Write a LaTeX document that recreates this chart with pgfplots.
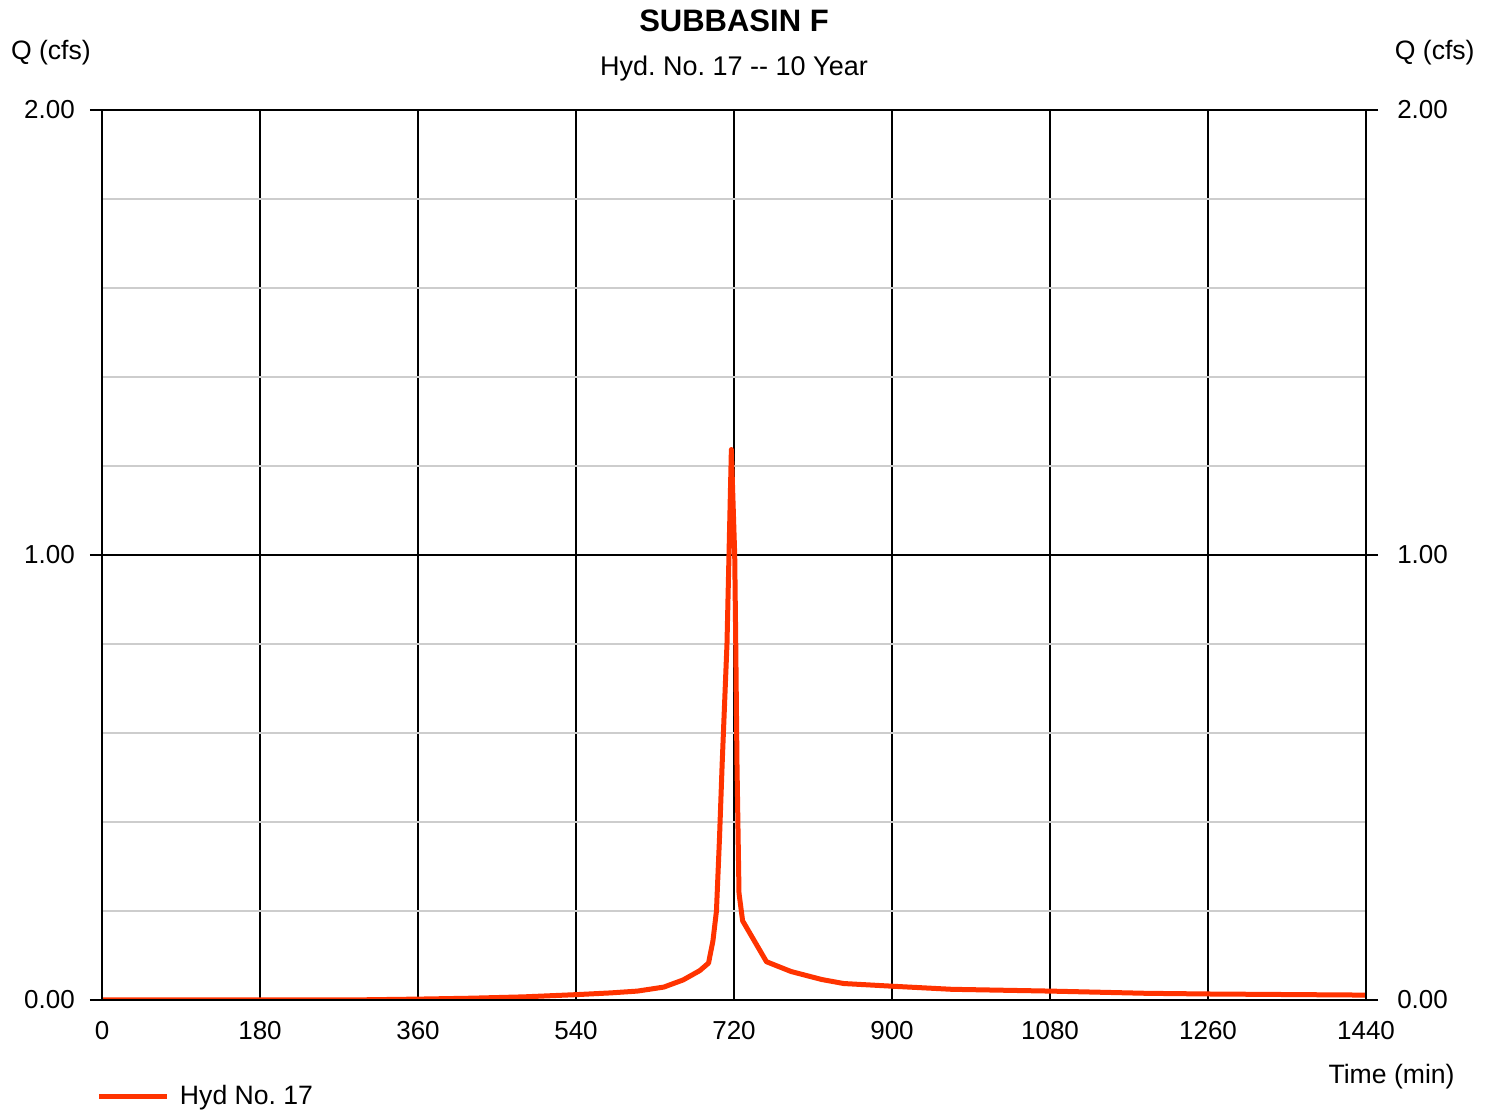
\documentclass[border=0pt]{standalone}
\usepackage{fontspec}
\setmainfont{Liberation Sans}
\usepackage{pgfplots}
\pgfplotsset{compat=1.18}
\definecolor{hyd}{RGB}{255,51,0}
\definecolor{mgrid}{RGB}{205,205,205}
\begin{document}
\frenchspacing
\fontsize{13.3pt}{16pt}\selectfont
\begin{tikzpicture}
\useasboundingbox (0,0) rectangle (747pt,556pt);
\begin{axis}[
  at={(51pt,56pt)}, anchor=south west,
  scale only axis, width=632pt, height=445pt,
  xmin=0, xmax=1440, ymin=0, ymax=2,
  xtick={0,180,360,540,720,900,1080,1260,1440},
  ytick={0,1,2},
  minor ytick={0.2,0.4,0.6,0.8,1.2,1.4,1.6,1.8},
  ytick pos=left,
  tick align=outside,
  major tick length=6pt, minor tick length=0pt,
  xtick style={draw=none},
  ytick style={black, line width=0.6pt},
  grid=both,
  major grid style={black, line width=0.6pt},
  minor grid style={mgrid, line width=1pt},
  axis line style={black, line width=0.7pt},
  /pgf/number format/assume math mode=true,
  /pgf/number format/1000 sep={},
  xticklabel style={font=\fontsize{13pt}{15pt}\selectfont, anchor=base, yshift=-14pt},
  yticklabel style={font=\fontsize{13pt}{15pt}\selectfont, /pgf/number format/fixed, /pgf/number format/fixed zerofill, /pgf/number format/precision=2, xshift=-3pt},
  legend style={at={(0,-0.109)}, anchor=west, xshift=-2.7pt, draw=none, fill=none, inner sep=0pt,
    font=\fontsize{13.3pt}{16pt}\selectfont,
    /tikz/every odd column/.append style={column sep=3.5pt}},
  legend cell align=left,
  legend image code/.code={\draw[#1] (0pt,0pt) -- (33.5pt,0pt);},
]
\addplot[hyd, line width=2.5pt, line join=round] coordinates {
(0,0) (120,0) (240,0) (300,0.0005) (360,0.002) (420,0.004) (480,0.007)
(540,0.012) (580,0.016) (610,0.020) (640,0.029) (662,0.045) (681,0.066)
(691,0.083) (696,0.133) (700,0.20) (703.5,0.365) (706.5,0.53) (712,0.80)
(717,1.237) (720.8,1.0) (722,0.8) (723.4,0.53) (725.7,0.24) (729.8,0.178)
(757,0.086) (785,0.064) (820,0.046) (845,0.037) (900,0.031) (968,0.024)
(1080,0.020) (1190,0.015) (1260,0.0135) (1440,0.011)
};
\addlegendentry{Hyd No. 17}
\end{axis}
\begin{axis}[
  at={(51pt,56pt)}, anchor=south west,
  scale only axis, width=632pt, height=445pt,
  xmin=0, xmax=1440, ymin=0, ymax=2,
  xtick=\empty, ytick={0,1,2},
  ytick pos=right, yticklabel pos=right,
  tick align=outside, major tick length=6pt,
  ytick style={black, line width=0.6pt},
  axis line style={black, line width=0.7pt},
  /pgf/number format/assume math mode=true,
  yticklabel style={font=\fontsize{13pt}{15pt}\selectfont, /pgf/number format/fixed, /pgf/number format/fixed zerofill, /pgf/number format/precision=2, xshift=5pt},
]
\end{axis}
\node[anchor=base, font=\bfseries\fontsize{15.5pt}{18pt}\selectfont] at (367pt,540.2pt) {SUBBASIN F};
\node[anchor=base, font=\fontsize{13.5pt}{16pt}\selectfont] at (367pt,518pt) {Hyd. No. 17 -{}- 10 Year};
\node[anchor=base west, inner sep=0pt] at (5.3pt,526pt) {Q (cfs)};
\node[anchor=base east, inner sep=0pt] at (737.5pt,526pt) {Q (cfs)};
\node[anchor=base east, inner sep=0pt] at (727.5pt,14pt) {Time (min)};
\end{tikzpicture}
\end{document}
